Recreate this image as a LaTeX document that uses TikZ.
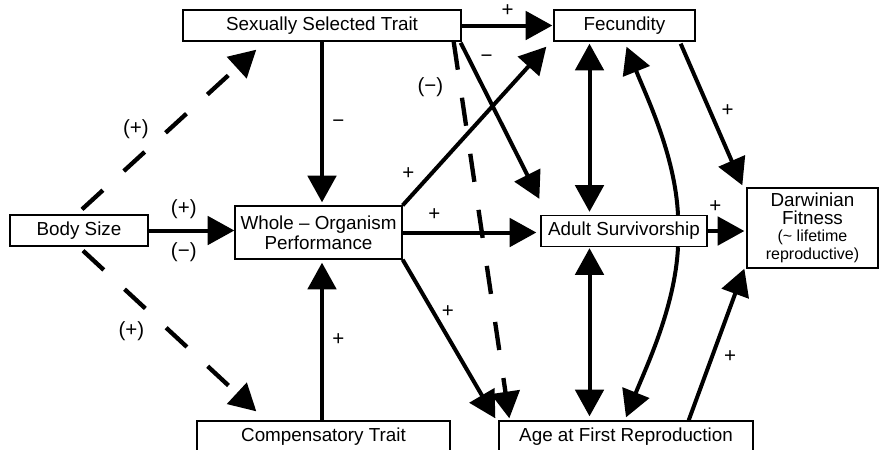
\documentclass[tikz,border=0pt]{standalone}
\usepackage{fontspec}
\setmainfont{Liberation Sans}
\usetikzlibrary{arrows.meta,positioning,calc}

\begin{document}
\begin{tikzpicture}[
  x=0.6pt, y=-0.6pt,
  font=\fontsize{11.3}{12}\selectfont,
  >={Triangle[length=16pt,width=17pt]},
  box/.style   ={draw,line width=0.8pt,inner sep=0pt,minimum height=18.6pt,align=center},
  lbl/.style   ={inner sep=1pt,font=\fontsize{12.3}{13}\selectfont},
  arrow/.style ={->,line width=2.4pt},
  twoway/.style={<->,line width=2.4pt},
  dashedarrow/.style={->,line width=2.6pt,dash pattern=on 17pt off 17pt}
]
\useasboundingbox (0,0) rectangle (879,449);

% ==================================================
% BOXES
% ==================================================
\node[box, minimum width=166.8pt] (sst) at (322,25.5) {Sexually Selected Trait};
\node[box, minimum width=84.6pt] (fec) at (624.5,25.5) {Fecundity};
\node[box, minimum width=82.8pt] (body) at (79,230.5) {Body Size};
\node[box, minimum width=100.2pt, minimum height=31.8pt] (wop) at (318.5,232.5)
  {Whole – Organism\\ Performance};
\node[box, minimum width=78.6pt, minimum height=48pt, font=\fontsize{11.3}{10.5}\selectfont] (fit) at (812.5,228)
  {Darwinian\\ Fitness\\ {\fontsize{9.6}{10.5}\selectfont (\textasciitilde{} lifetime}\\ {\fontsize{9.6}{10.5}\selectfont reproductive)}};
\node[box, minimum width=99.6pt] (adult) at (624,231) {Adult Survivorship};
\node[box, minimum width=151.8pt] (comp) at (323.5,436.5) {Compensatory Trait};
\node[box, minimum width=152.4pt] (afr) at (626,436.5) {Age at First Reproduction};

% ==================================================
% CONNECTORS
% ==================================================
% body size
\draw[dashedarrow] ($(body.north)+(3,-5)$) -- node[lbl,left=10pt]{(+)} ($(sst.south west)+(74,8)$);
\draw[arrow] (body.east) -- node[lbl,pos=.41,above=5pt]{(+)} node[lbl,pos=.41,below=5pt]{(−)} (body.east -| wop.west);
\draw[dashedarrow] ($(body.south)+(4,4)$) -- node[lbl,left=13pt]{(+)} ($(comp.north west)+(60,-9)$);

% into performance
\draw[arrow,shorten >=1.8pt] (sst.south) -- node[lbl,right=4pt]{−} (sst.south |- wop.north);
\draw[arrow,shorten >=1.8pt] (comp.north -| sst.south) -- node[lbl,right=4pt]{+} (sst.south |- wop.south);

% sexually selected trait
\draw[arrow,shorten >=0.6pt] (sst.east) -- node[lbl,above=3pt]{+} (fec.west);
\draw[arrow] ($(sst.south east)+(-1,1)$) -- node[lbl,pos=.1,right=5pt]{−} ($(adult.north west)+(-1,-16)$);
\draw[dashedarrow] ($(sst.south east)+(-8,0)$) -- node[lbl,pos=.12,left=8pt]{(−)} ($(afr.north west)+(11,-2)$);

% performance
\draw[arrow] (wop.north east) -- node[lbl,pos=.2,left=8pt]{+} ($(fec.south west)+(-7,5)$);
\draw[arrow,shorten >=2.4pt] (wop.east) -- node[lbl,pos=.23,above=5pt]{+} (wop.east -| adult.west);
\draw[arrow] (wop.south east) -- node[lbl,pos=.33,right=3pt]{+} ($(afr.north west)+(-3,-2)$);

% trade-offs
\draw[twoway,shorten <=1.2pt,shorten >=1.8pt] ($(fec.south)+(-35,0)$) -- ($(adult.north)+(-34.5,0)$);
\draw[twoway,shorten <=0.6pt,shorten >=2.4pt] ($(adult.south)+(-34.5,0)$) -- ($(afr.north)+(-36.5,0)$);
\draw[arrow] ($(adult.north)+(54,0)$) .. controls +(-3,-60) and +(20,50) .. ($(fec.south)+(2,5)$);
\draw[arrow] ($(adult.south)+(54,0)$) .. controls +(-3,60) and +(20,-50) .. ($(afr.north)+(0,-3)$);

% fitness
\draw[arrow] ($(fec.south east)+(-15,2)$) -- node[lbl,pos=.47,right=5pt]{+} ($(fit.north west)+(-4,-2)$);
\draw[arrow,shorten >=1.2pt] (adult.east) -- node[lbl,pos=.2,above=9pt]{+} (adult.east -| fit.west);
\draw[arrow] ($(afr.north east)+(-65,0)$) -- node[lbl,pos=.42,right=5pt]{+} ($(fit.south west)+(-2,0)$);

\end{tikzpicture}
\end{document}
